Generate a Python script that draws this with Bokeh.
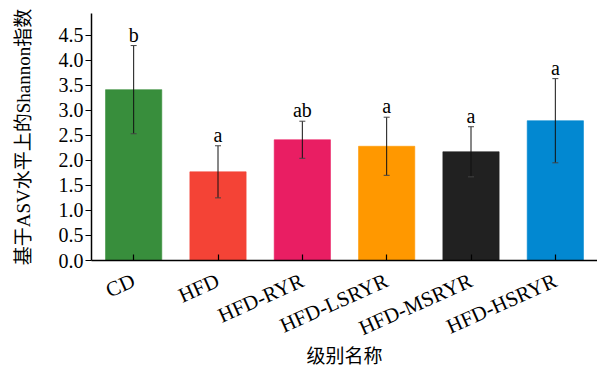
from bokeh.plotting import figure
from bokeh.models import (ColumnDataSource, Range1d, FactorRange, FixedTicker,
                          PrintfTickFormatter, Whisker, TeeHead)
from bokeh.core.properties import value
from bokeh.embed import file_html
from bokeh.resources import INLINE

# Shannon index per diet group (mean, error) and significance letters
groups = ["CD", "HFD", "HFD-RYR", "HFD-LSRYR", "HFD-MSRYR", "HFD-HSRYR"]
means = [3.41, 1.77, 2.41, 2.28, 2.17, 2.79]
errors = [0.88, 0.52, 0.37, 0.58, 0.50, 0.84]
letters = ["b", "a", "ab", "a", "a", "a"]
colors = ["#388e3c", "#f44336", "#e91e63", "#ff9800", "#212121", "#0288d1"]
y_ticks = [0.0, 0.5, 1.0, 1.5, 2.0, 2.5, 3.0, 3.5, 4.0, 4.5]

x_title = "级别名称"
y_title = "基于ASV水平上的Shannon指数"

serif = "Liberation Serif, Noto Sans CJK SC"

src = ColumnDataSource(dict(
    group=groups,
    mean=means,
    upper=[m + e for m, e in zip(means, errors)],
    lower=[m - e for m, e in zip(means, errors)],
    letter=letters,
    color=colors,
))

p = figure(
    width=597, height=369,
    x_range=FactorRange(*groups),
    y_range=Range1d(0, 4.93),
    output_backend="svg",
    toolbar_location=None,
    min_border_left=91, min_border_right=0,
    min_border_top=13, min_border_bottom=109,
)
p.outline_line_color = None
p.xgrid.grid_line_color = None
p.ygrid.grid_line_color = None
p.background_fill_color = "white"
p.border_fill_color = "white"

p.vbar(x="group", top="mean", width=0.667, fill_color="color",
       line_color="color", line_alpha=0.6, source=src)

whisker = Whisker(
    base="group", upper="upper", lower="lower", source=src,
    line_color="#111111", line_width=1, level="overlay",
    upper_head=TeeHead(size=6, line_color="#444444", line_width=1),
    lower_head=TeeHead(size=6, line_color="#444444", line_width=1),
)
p.add_layout(whisker)

p.text(x="group", y="upper", text="letter", source=src,
       text_align="center", text_baseline="alphabetic", y_offset=-11,
       text_font=value("Liberation Serif"), text_font_size="20px",
       text_color="black")

# y axis
p.yaxis.ticker = FixedTicker(ticks=y_ticks)
p.yaxis.formatter = PrintfTickFormatter(format="%.1f")
p.yaxis.minor_tick_line_color = None
p.yaxis.major_tick_out = 6
p.yaxis.major_tick_in = 0
p.yaxis.major_label_standoff = 2
p.yaxis.major_label_text_font_size = "20px"
p.yaxis.axis_label = y_title
p.yaxis.axis_label_standoff = 22

# x axis
p.xaxis.major_tick_in = 6
p.xaxis.major_tick_out = 0
p.xaxis.major_label_orientation = 0.42
p.xaxis.major_label_standoff = 19
p.xaxis.major_label_text_font_size = "21px"
p.xaxis.axis_label = x_title
p.xaxis.axis_label_standoff = -8

for ax in (p.xaxis, p.yaxis):
    ax.axis_line_width = 1.5
    ax.axis_line_color = "black"
    ax.major_tick_line_color = "black"
    ax.major_tick_line_width = 1.2
    ax.major_label_text_font = serif
    ax.major_label_text_color = "black"
    ax.axis_label_text_font = serif
    ax.axis_label_text_font_size = "19px"
    ax.axis_label_text_font_style = "normal"
    ax.axis_label_text_color = "black"

open("out.html", "w").write(file_html(p, INLINE))
